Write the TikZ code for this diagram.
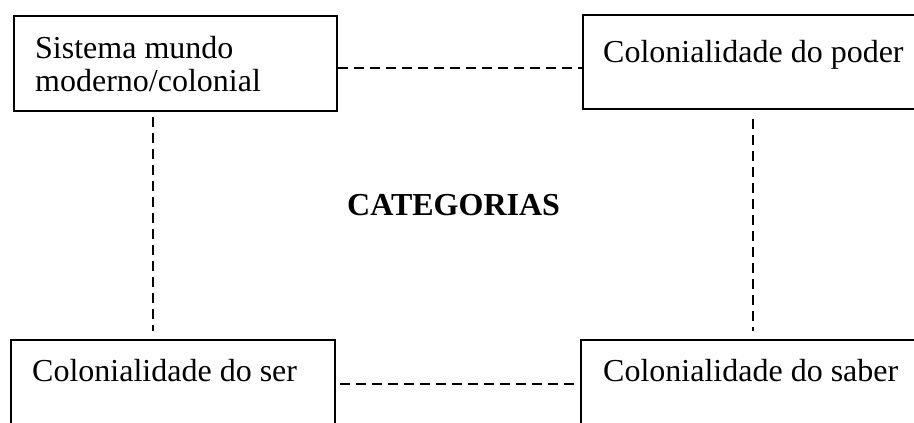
\documentclass[tikz,border=0pt]{standalone}
\usepackage{fontspec}
\setmainfont{Liberation Serif}
\tikzset{
  box/.style={draw, line width=2.4pt, rectangle, anchor=north west, inner sep=0pt},
  txt/.style={anchor=base west, inner sep=0pt, font=\fontsize{32}{33}\selectfont},
  title/.style={anchor=base west, inner sep=0pt, font=\fontsize{32}{32}\selectfont\bfseries},
  link/.style={line width=2.4pt, dash pattern=on 10pt off 6pt},
}
\begin{document}
\begin{tikzpicture}[x=1pt, y=-1pt]
  \useasboundingbox (0,0) rectangle (914,423);
  \clip (0,0) rectangle (914,423);
  \node[box, minimum width=323pt, minimum height=95pt] (sis) at(13,15){};
  \node[box, minimum width=340pt, minimum height=94pt] (poder) at(582,14){};
  \node[box, minimum width=324pt, minimum height=120pt] (ser) at(10,339){};
  \node[box, minimum width=342pt, minimum height=120pt] (saber) at(580,339){};
  \node[txt] (sistxt) at(35,58){\begin{tabular}[t]{@{}l@{}}Sistema mundo\\moderno/colonial\end{tabular}};
  \node[txt] (podertxt) at(603,62){Colonialidade do poder};
  \node[txt] (sertxt) at(32,381){Colonialidade do ser};
  \node[txt] (sabertxt) at(603,381){Colonialidade do saber};
  \node[title] (cat) at(347,215){CATEGORIAS};
  \draw[link] ([yshift=-4.5pt]sis.east) -- ([yshift=-4.5pt]sis.east -| poder.west);
  \draw[link, shorten <=4pt, shorten >=6pt] ([yshift=16pt]ser.east) -- ([yshift=16pt]ser.east -| saber.west);
  \draw[link, shorten <=5pt, shorten >=8pt] ([xshift=-22.5pt]sis.south) -- ([xshift=-22.5pt]sis.south |- ser.north);
  \draw[link, shorten <=9pt, shorten >=8pt] (poder.south) -- (poder.south |- saber.north);
\end{tikzpicture}
\end{document}
